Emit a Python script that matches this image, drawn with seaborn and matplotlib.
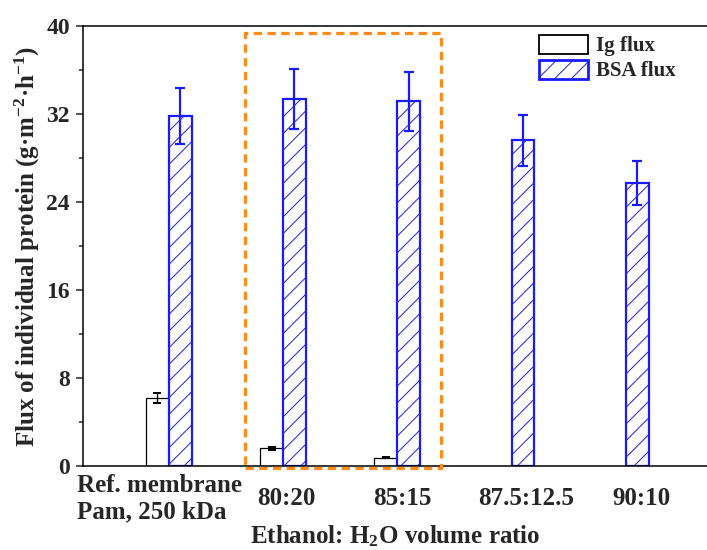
import numpy as np
import pandas as pd
import matplotlib
matplotlib.use("Agg")
import matplotlib.pyplot as plt
import seaborn as sns
from matplotlib.patches import Patch, Rectangle
from matplotlib.transforms import ScaledTranslation

# ---------------- data ----------------
categories = ["Ref. membrane\nPam, 250 kDa", "80:20", "85:15", "87.5:12.5", "90:10"]
series = ["Ig flux", "BSA flux"]
ig_flux = [6.2, 1.6, 0.75, np.nan, np.nan]
ig_err = [0.45, 0.1, 0.05, np.nan, np.nan]
bsa_flux = [31.85, 33.35, 33.15, 29.6, 25.7]
bsa_err = [2.55, 2.7, 2.68, 2.35, 2.0]
y_ticks = [0, 8, 16, 24, 32, 40]
x_label = "Ethanol: H$_2$O volume ratio"
y_label = "Flux of individual protein (g\u00b7m$^{-2}$\u00b7h$^{-1}$)"

# ---------------- style ----------------
sns.set_style("ticks")
plt.rcParams["font.family"] = ["Liberation Serif", "DejaVu Serif"]
plt.rcParams["font.weight"] = "bold"
plt.rcParams["mathtext.fontset"] = "custom"
plt.rcParams["mathtext.rm"] = "Liberation Serif:bold"
plt.rcParams["mathtext.it"] = "Liberation Serif:bold"
plt.rcParams["mathtext.bf"] = "Liberation Serif:bold"
plt.rcParams["hatch.linewidth"] = 0.7

BLUE = "#1a1aff"
ORANGE = "#ff8c1a"

df = pd.DataFrame({
    "category": categories * 2,
    "series": [series[0]] * len(categories) + [series[1]] * len(categories),
    "flux": ig_flux + bsa_flux,
    "err": ig_err + bsa_err,
}).dropna()

fig = plt.figure(figsize=(7.07, 5.5), dpi=100)
ax = fig.add_axes([83 / 707, 84 / 550, 624 / 707, 440 / 550])

sns.barplot(data=df, x="category", y="flux", hue="series", order=categories,
            hue_order=series, width=0.4, errorbar=None, legend=False,
            palette={series[0]: "white", series[1]: "white"}, ax=ax, zorder=2)

# style bars + error bars from the drawn patches
err_lookup = {(r.series, r.category): r.err for r in df.itertuples()}
for cont, s in zip(ax.containers, series):
    xs, ys, es = [], [], []
    for bar in cont:
        cx = bar.get_x() + bar.get_width() / 2
        idx = int(round(cx))
        if s == "Ig flux":
            bar.set_facecolor("white")
            bar.set_edgecolor("black")
            bar.set_linewidth(0.9)
        else:
            bar.set_facecolor("white")
            bar.set_edgecolor(BLUE)
            bar.set_hatch("//")
            bar.set_linewidth(1.6)
        if bar.get_height() > 0:
            xs.append(cx)
            ys.append(bar.get_height())
            es.append(err_lookup[(s, categories[idx])])
    if s == "Ig flux":
        ax.errorbar(xs, ys, yerr=es, fmt="none", ecolor="black", elinewidth=1.0,
                    capsize=3, capthick=1.4, zorder=3)
    else:
        ax.errorbar(xs, ys, yerr=es, fmt="none", ecolor=BLUE, elinewidth=1.6,
                    capsize=3.6, capthick=1.6, zorder=3)

# axes
ax.set_xlim(-0.75, 4.71)
ax.set_ylim(0, 40)
ax.set_yticks(y_ticks)
ax.set_yticks([4, 12, 20, 28, 36], minor=True)
ax.tick_params(axis="y", which="major", direction="out", length=5, width=1.1,
               labelsize=17, pad=4.5)
ax.tick_params(axis="y", which="minor", direction="out", length=2.6, width=1.1)
ax.tick_params(axis="x", which="both", length=0, labelsize=18, pad=23.5)
for sp in ["left", "bottom", "top"]:
    ax.spines[sp].set_linewidth(1.1)
    ax.spines[sp].set_color("black")
ax.spines["right"].set_visible(False)

ax.set_xlabel(x_label, fontsize=18, fontweight="bold", labelpad=0.5)
ax.set_ylabel(y_label, fontsize=18, fontweight="bold")
ax.yaxis.set_label_coords(-0.066, 0.5)

offsets_px = [-9.5, 3, 5, 14, 16]
for lbl, dx in zip(ax.get_xticklabels(), offsets_px):
    lbl.set_verticalalignment("center")
    lbl.set_multialignment("left")
    lbl.set_linespacing(1.15)
    lbl.set_fontweight("bold")
    lbl.set_transform(lbl.get_transform() + ScaledTranslation(dx / 100, 0, fig.dpi_scale_trans))
for lbl in ax.get_yticklabels():
    lbl.set_fontweight("bold")

# highlight box (annotation)
box = Rectangle((0.671, -0.21), 2.386 - 0.671, 39.34 + 0.21, fill=False,
                edgecolor=ORANGE, linewidth=2.3, linestyle=(0, (2.6, 1.7)),
                clip_on=False, zorder=4)
ax.add_patch(box)

handles = [
    Patch(facecolor="white", edgecolor="black", linewidth=1.3, label=series[0]),
    Patch(facecolor="white", edgecolor=BLUE, hatch="//", linewidth=2.0, label=series[1]),
]
ax.legend(handles=handles, loc="upper left", bbox_to_anchor=(0.70, 1.023),
          frameon=False, prop={"family": "Liberation Serif", "weight": "bold", "size": 15},
          handlelength=2.35, handleheight=1.06, handletextpad=0.4, labelspacing=0.15,
          borderpad=0.4)

fig.savefig("out.png", dpi=100, facecolor="white")
